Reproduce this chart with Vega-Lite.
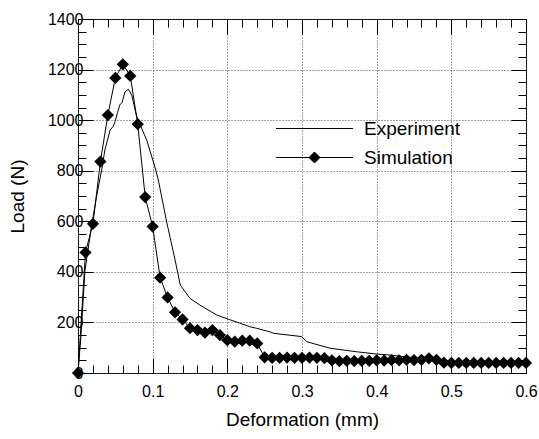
{
  "$schema": "https://vega.github.io/schema/vega-lite/v6.json",
  "width": 448,
  "height": 354,
  "autosize": {"type": "none"},
  "padding": {"left": 78, "top": 19, "right": 13, "bottom": 66},
  "background": "white",
  "config": {
    "font": "Liberation Sans",
    "view": {"stroke": "black", "strokeWidth": 1},
    "axis": {"domain": false, "tickColor": "black", "tickWidth": 1, "labelColor": "black", "titleColor": "black", "titleFontWeight": "normal", "labelFont": "Liberation Sans", "titleFont": "Liberation Sans", "labelOverlap": false, "labelFlush": false, "gridColor": "#444", "gridDash": [1, 2], "gridWidth": 1},
    "legend": {"title": null, "orient": "none", "symbolSize": 121, "symbolStrokeWidth": 1, "symbolStrokeColor": "black", "symbolFillColor": "black", "labelFontSize": 19, "labelFont": "Liberation Sans", "labelColor": "black", "labelOffset": 40, "padding": 0}
  },
  "datasets": {
    "exp": [
      {"d": 0, "load": 0, "series": "Experiment"},
      {"d": 0.004, "load": 150, "series": "Experiment"},
      {"d": 0.0094, "load": 407, "series": "Experiment"},
      {"d": 0.018, "load": 579, "series": "Experiment"},
      {"d": 0.025, "load": 700, "series": "Experiment"},
      {"d": 0.0317, "load": 803, "series": "Experiment"},
      {"d": 0.036, "load": 882, "series": "Experiment"},
      {"d": 0.043, "load": 961, "series": "Experiment"},
      {"d": 0.047, "load": 975, "series": "Experiment"},
      {"d": 0.0496, "load": 994, "series": "Experiment"},
      {"d": 0.053, "load": 1030, "series": "Experiment"},
      {"d": 0.056, "load": 1060, "series": "Experiment"},
      {"d": 0.059, "load": 1070, "series": "Experiment"},
      {"d": 0.063, "load": 1112, "series": "Experiment"},
      {"d": 0.0674, "load": 1122, "series": "Experiment"},
      {"d": 0.072, "load": 1099, "series": "Experiment"},
      {"d": 0.0786, "load": 1014, "series": "Experiment"},
      {"d": 0.092, "load": 921, "series": "Experiment"},
      {"d": 0.103, "load": 815, "series": "Experiment"},
      {"d": 0.1076, "load": 763, "series": "Experiment"},
      {"d": 0.1187, "load": 598, "series": "Experiment"},
      {"d": 0.13, "load": 447, "series": "Experiment"},
      {"d": 0.137, "load": 348, "series": "Experiment"},
      {"d": 0.15, "load": 295, "series": "Experiment"},
      {"d": 0.163, "load": 269, "series": "Experiment"},
      {"d": 0.186, "load": 229, "series": "Experiment"},
      {"d": 0.204, "load": 210, "series": "Experiment"},
      {"d": 0.217, "load": 197, "series": "Experiment"},
      {"d": 0.23, "load": 183, "series": "Experiment"},
      {"d": 0.239, "load": 177, "series": "Experiment"},
      {"d": 0.257, "load": 163, "series": "Experiment"},
      {"d": 0.262, "load": 157, "series": "Experiment"},
      {"d": 0.2996, "load": 144, "series": "Experiment"},
      {"d": 0.306, "load": 124, "series": "Experiment"},
      {"d": 0.3375, "load": 98, "series": "Experiment"},
      {"d": 0.373, "load": 84, "series": "Experiment"},
      {"d": 0.4, "load": 75, "series": "Experiment"},
      {"d": 0.418, "load": 71, "series": "Experiment"},
      {"d": 0.45, "load": 60, "series": "Experiment"},
      {"d": 0.5, "load": 45, "series": "Experiment"},
      {"d": 0.55, "load": 42, "series": "Experiment"},
      {"d": 0.6, "load": 40, "series": "Experiment"}
    ],
    "sim": [
      {"d": 0, "load": 0, "series": "Simulation"},
      {"d": 0.01, "load": 477, "series": "Simulation"},
      {"d": 0.02, "load": 590, "series": "Simulation"},
      {"d": 0.03, "load": 836, "series": "Simulation"},
      {"d": 0.04, "load": 1020, "series": "Simulation"},
      {"d": 0.05, "load": 1167, "series": "Simulation"},
      {"d": 0.06, "load": 1221, "series": "Simulation"},
      {"d": 0.07, "load": 1175, "series": "Simulation"},
      {"d": 0.08, "load": 984, "series": "Simulation"},
      {"d": 0.09, "load": 696, "series": "Simulation"},
      {"d": 0.1, "load": 579, "series": "Simulation"},
      {"d": 0.11, "load": 377, "series": "Simulation"},
      {"d": 0.12, "load": 299, "series": "Simulation"},
      {"d": 0.13, "load": 240, "series": "Simulation"},
      {"d": 0.14, "load": 212, "series": "Simulation"},
      {"d": 0.15, "load": 177, "series": "Simulation"},
      {"d": 0.16, "load": 170, "series": "Simulation"},
      {"d": 0.17, "load": 160, "series": "Simulation"},
      {"d": 0.18, "load": 170, "series": "Simulation"},
      {"d": 0.19, "load": 150, "series": "Simulation"},
      {"d": 0.2, "load": 130, "series": "Simulation"},
      {"d": 0.21, "load": 124, "series": "Simulation"},
      {"d": 0.22, "load": 128, "series": "Simulation"},
      {"d": 0.23, "load": 128, "series": "Simulation"},
      {"d": 0.24, "load": 117, "series": "Simulation"},
      {"d": 0.25, "load": 62, "series": "Simulation"},
      {"d": 0.26, "load": 60, "series": "Simulation"},
      {"d": 0.27, "load": 60, "series": "Simulation"},
      {"d": 0.28, "load": 61, "series": "Simulation"},
      {"d": 0.29, "load": 60, "series": "Simulation"},
      {"d": 0.3, "load": 60, "series": "Simulation"},
      {"d": 0.31, "load": 61, "series": "Simulation"},
      {"d": 0.32, "load": 60, "series": "Simulation"},
      {"d": 0.33, "load": 59, "series": "Simulation"},
      {"d": 0.34, "load": 50, "series": "Simulation"},
      {"d": 0.35, "load": 47, "series": "Simulation"},
      {"d": 0.36, "load": 48, "series": "Simulation"},
      {"d": 0.37, "load": 47, "series": "Simulation"},
      {"d": 0.38, "load": 48, "series": "Simulation"},
      {"d": 0.39, "load": 48, "series": "Simulation"},
      {"d": 0.4, "load": 50, "series": "Simulation"},
      {"d": 0.41, "load": 49, "series": "Simulation"},
      {"d": 0.42, "load": 51, "series": "Simulation"},
      {"d": 0.43, "load": 50, "series": "Simulation"},
      {"d": 0.44, "load": 52, "series": "Simulation"},
      {"d": 0.45, "load": 51, "series": "Simulation"},
      {"d": 0.46, "load": 52, "series": "Simulation"},
      {"d": 0.47, "load": 58, "series": "Simulation"},
      {"d": 0.48, "load": 52, "series": "Simulation"},
      {"d": 0.49, "load": 41, "series": "Simulation"},
      {"d": 0.5, "load": 40, "series": "Simulation"},
      {"d": 0.51, "load": 40, "series": "Simulation"},
      {"d": 0.52, "load": 40, "series": "Simulation"},
      {"d": 0.53, "load": 40, "series": "Simulation"},
      {"d": 0.54, "load": 40, "series": "Simulation"},
      {"d": 0.55, "load": 40, "series": "Simulation"},
      {"d": 0.56, "load": 40, "series": "Simulation"},
      {"d": 0.57, "load": 40, "series": "Simulation"},
      {"d": 0.58, "load": 40, "series": "Simulation"},
      {"d": 0.59, "load": 40, "series": "Simulation"},
      {"d": 0.6, "load": 40, "series": "Simulation"}
    ]
  },
  "resolve": {"axis": {"x": "independent", "y": "independent"}, "scale": {"color": "independent"}},
  "layer": [
    {
      "data": {"name": "exp"},
      "mark": {"type": "line", "strokeWidth": 1, "clip": true},
      "encoding": {
        "x": {
          "field": "d", "type": "quantitative",
          "scale": {"domain": [0, 0.6], "nice": false, "zero": false},
          "axis": {
            "orient": "bottom",
            "title": "Deformation (mm)", "titleFontSize": 19, "titlePadding": 4,
            "values": [0,0.02,0.04,0.06,0.08,0.1,0.12,0.14,0.16,0.18,0.2,0.22,0.24,0.26,0.28,0.3,0.32,0.34,0.36,0.38,0.4,0.42,0.44,0.46,0.48,0.5,0.52,0.54,0.56,0.58,0.6],
            "labelExpr": "abs(datum.value*10 - round(datum.value*10)) < 0.001 ? format(datum.value, '.1~f') : ''",
            "labelFontSize": 16, "labelPadding": 25,
            "tickSize": {"condition": {"test": "abs(datum.value*10 - round(datum.value*10)) < 0.001", "value": -15}, "value": -8},
            "grid": true,
            "gridOpacity": {"condition": {"test": "abs(datum.value*10 - round(datum.value*10)) < 0.001", "value": 1}, "value": 0}
          }
        },
        "y": {
          "field": "load", "type": "quantitative",
          "scale": {"domain": [0, 1400], "nice": false},
          "axis": {
            "orient": "left",
            "title": "Load (N)", "titleFontSize": 19, "titlePadding": 20,
            "values": [0,50,100,150,200,250,300,350,400,450,500,550,600,650,700,750,800,850,900,950,1000,1050,1100,1150,1200,1250,1300,1350,1400],
            "labelExpr": "datum.value % 200 === 0 ? format(datum.value, 'd') : ''",
            "labelFontSize": 16, "labelPadding": 10,
            "tickSize": {"condition": {"test": "datum.value % 200 === 0", "value": -15}, "value": -8},
            "grid": true,
            "gridOpacity": {"condition": {"test": "datum.value % 200 === 0", "value": 1}, "value": 0}
          }
        },
        "color": {
          "field": "series", "type": "nominal",
          "scale": {"domain": ["Experiment"], "range": ["black"]},
          "legend": {"legendX": 227, "legendY": 100, "symbolType": "M-7,0H7"}
        }
      }
    },
    {
      "data": {"name": "sim"},
      "mark": {"type": "line", "strokeWidth": 1},
      "encoding": {
        "x": {
          "field": "d", "type": "quantitative",
          "axis": {
            "orient": "top", "title": null, "labels": false,
            "values": [0,0.02,0.04,0.06,0.08,0.1,0.12,0.14,0.16,0.18,0.2,0.22,0.24,0.26,0.28,0.3,0.32,0.34,0.36,0.38,0.4,0.42,0.44,0.46,0.48,0.5,0.52,0.54,0.56,0.58,0.6],
            "tickSize": {"condition": {"test": "abs(datum.value*10 - round(datum.value*10)) < 0.001", "value": -15}, "value": -8},
            "grid": false
          }
        },
        "y": {
          "field": "load", "type": "quantitative",
          "axis": {
            "orient": "right", "title": null, "labels": false,
            "values": [0,50,100,150,200,250,300,350,400,450,500,550,600,650,700,750,800,850,900,950,1000,1050,1100,1150,1200,1250,1300,1350,1400],
            "tickSize": {"condition": {"test": "datum.value % 200 === 0", "value": -15}, "value": -8},
            "grid": false
          }
        },
        "color": {
          "field": "series", "type": "nominal",
          "scale": {"domain": ["Simulation"], "range": ["black"]},
          "legend": {"legendX": 227, "legendY": 129, "symbolType": "M-7,0H7M-1,0L0,-1L1,0L0,1Z", "encode": {"symbols": {"update": {"fill": {"value": "black"}}}}}
        }
      }
    },
    {
      "data": {"name": "sim"},
      "mark": {"type": "point", "shape": "diamond", "filled": true, "size": 150, "color": "black", "opacity": 1},
      "encoding": {
        "x": {"field": "d", "type": "quantitative", "axis": null},
        "y": {"field": "load", "type": "quantitative", "axis": null}
      }
    }
  ]
}
